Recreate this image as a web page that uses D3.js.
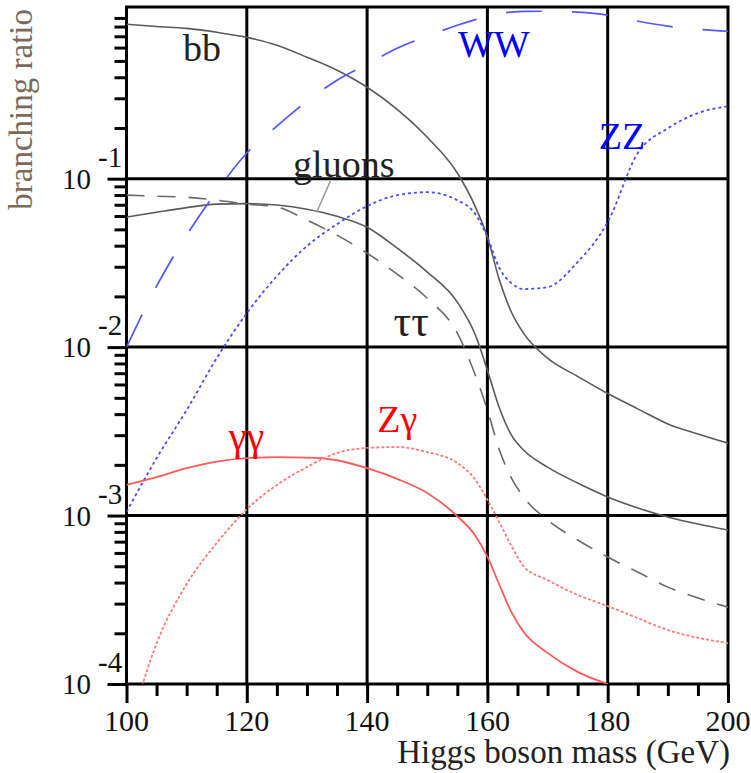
<!DOCTYPE html>
<meta charset="utf-8">
<script src="https://d3js.org/d3.v7.min.js"></script>
<style type="text/css">
	body { margin: 0; background: #fff; }
	svg { display: block; font-family: "Liberation Serif", "DejaVu Serif", serif; }
	.axis path { display: none; }
	.axis line { stroke: #000; stroke-width: 3px; }
	.grid line { stroke: #000; stroke-width: 3px; }
	.curve { fill: none; }
</style>
<body></body>
<script>

// Higgs mass grid (GeV)
var masses = [100,105,110,115,120,125,130,135,140,145,150,155,158,160,162,164,166,170,175,180,185,190,195,200];

// branching ratios
var bbBR     = [0.826,0.80,0.78,0.74,0.69,0.62,0.526,0.44,0.349,0.258,0.176,0.108,0.068,0.045,0.025,0.0161,0.0121,0.0086,0.0067,0.0053,0.0043,0.0035,0.00305,0.00269];
var tautauBR = [0.0591,0.0632,0.0673,0.0706,0.0711,0.0697,0.0659,0.0598,0.0515,0.0387,0.0279,0.0185,0.0118,0.0073,0.00435,0.0030,0.00245,0.00194,0.00156,0.00129,0.00111,0.00098,0.00089,0.00082];
var gluonBR  = [0.0798,0.0787,0.0776,0.0745,0.0706,0.0678,0.0567,0.0462,0.0361,0.0271,0.0195,0.0121,0.0068,0.00423,0.00245,0.00167,0.00129,0.00094,0.000716,0.000567,0.000462,0.000376,0.000324,0.000286];
var wwBR     = [0.0100,0.0230,0.0462,0.0842,0.142,0.205,0.288,0.384,0.478,0.595,0.701,0.815,0.88,0.921,0.955,0.975,0.985,0.986,0.973,0.934,0.861,0.804,0.771,0.75];
var zzBR     = [0.00105,0.00219,0.00423,0.0086,0.0159,0.0264,0.0398,0.0537,0.0687,0.0798,0.0831,0.0745,0.0616,0.045,0.0294,0.024,0.0221,0.0227,0.032,0.0552,0.142,0.199,0.245,0.269];
var gamgamBR = [0.00152,0.00169,0.00191,0.00209,0.00219,0.00222,0.00221,0.00213,0.00191,0.00165,0.00136,0.00099,0.00076,0.00057,0.000387,0.000267,0.000204,0.000153,0.000118,0.0001,null,null,null,null];
var zgamBR   = [0.000047,0.000174,0.000392,0.000687,0.00109,0.00152,0.00194,0.00235,0.00252,0.00255,0.00238,0.00205,0.00163,0.00124,0.00091,0.00066,0.000501,0.000414,0.000338,0.00029,0.000246,0.000209,0.000188,0.000175];

// axis ticks
var xTicks = [100,120,140,160,180,200];
var xMinorTicks = [105,110,115,125,130,135,145,150,155,165,170,175,185,190,195];
var yDecades = [1e-4,1e-3,1e-2,1e-1];
var yExponents = ['-4','-3','-2','-1'];
var yGrid = [1e-3,1e-2,1e-1];
var xGrid = [120,140,160,180];

var series = [
	{name: 'bb', values: bbBR, color: '#5a5a5a', dash: null, width: 1.6},
	{name: 'tautau', values: tautauBR, color: '#5a5a5a', dash: null, width: 1.6},
	{name: 'gluons', values: gluonBR, color: '#6a6a6a', dash: '18,13', width: 1.6},
	{name: 'WW', values: wwBR, color: '#5555ff', dash: '36,30', width: 1.7},
	{name: 'ZZ', values: zzBR, color: '#4a4aff', dash: '3,3', width: 1.8},
	{name: 'gamgam', values: gamgamBR, color: '#ff5a5a', dash: null, width: 1.8},
	{name: 'Zgam', values: zgamBR, color: '#ff7a7a', dash: '3,2', width: 1.8}
];

// curve labels, placed at (mass, BR) of their baseline-left corner
var labels = [
	{text: 'bb', m: 109.4, v: 0.50, color: '#222', size: 38},
	{text: 'gluons', m: 127.7, v: 0.103, color: '#222', size: 38},
	{text: 'ττ', m: 144.4, v: 0.0116, color: '#222', size: 44},
	{text: 'WW', m: 155.1, v: 0.527, color: '#0000ff', size: 38},
	{text: 'ZZ', m: 178.5, v: 0.150, color: '#0000ff', size: 38},
	{text: 'γγ', m: 117.0, v: 0.00245, color: '#ff0000', size: 40},
	{text: 'Zγ', m: 141.7, v: 0.00313, color: '#ff0000', size: 38}
];

var W = 751, H = 773;
var svg = d3.select('body').append('svg')
	.attr('width', W)
	.attr('height', H);

var xScale = d3.scaleLinear()
	.domain([100, 200])
	.range([126.5, 728]);

var yScale = d3.scaleLog()
	.domain([1e-4, 1.045])
	.range([684, 7]);

var x0 = xScale(100), x1 = xScale(200), y0 = yScale(1e-4), y1 = yScale(1.045);

svg.append('clipPath').attr('id', 'plotClip')
	.append('rect')
	.attr('x', x0).attr('y', y1)
	.attr('width', x1 - x0).attr('height', y0 - y1);

// grid
var grid = svg.append('g').attr('class', 'grid');
grid.selectAll('.vg').data(xGrid).enter().append('line')
	.attr('x1', function(d) { return xScale(d); })
	.attr('x2', function(d) { return xScale(d); })
	.attr('y1', y1).attr('y2', y0);
grid.selectAll('.hg').data(yGrid).enter().append('line')
	.attr('x1', x0).attr('x2', x1)
	.attr('y1', function(d) { return yScale(d); })
	.attr('y2', function(d) { return yScale(d); });

// frame
svg.append('rect')
	.attr('x', x0).attr('y', y1)
	.attr('width', x1 - x0).attr('height', y0 - y1)
	.style('fill', 'none').style('stroke', '#000').style('stroke-width', 3);

// x axis ticks
svg.append('g').attr('class', 'x axis')
	.attr('transform', 'translate(0,' + y0 + ')')
	.call(d3.axisBottom(xScale).tickValues(xTicks).tickSize(19).tickSizeOuter(0).tickFormat(''));
svg.append('g').attr('class', 'x axis')
	.attr('transform', 'translate(0,' + y0 + ')')
	.call(d3.axisBottom(xScale).tickValues(xMinorTicks).tickSize(12).tickSizeOuter(0).tickFormat(''));

// y axis ticks
var yMinor = [];
yDecades.forEach(function(d) {
	for (var k = 2; k <= 9; k++) { if (d * k <= 1.045) yMinor.push(d * k); }
});
svg.append('g').attr('class', 'y axis')
	.attr('transform', 'translate(' + x0 + ',0)')
	.call(d3.axisLeft(yScale).tickValues(yDecades).tickSize(19).tickSizeOuter(0).tickFormat(''));
svg.append('g').attr('class', 'y axis')
	.attr('transform', 'translate(' + x0 + ',0)')
	.call(d3.axisLeft(yScale).tickValues(yMinor).tickSize(12).tickSizeOuter(0).tickFormat(''));

// tick labels
svg.selectAll('.xlab').data(xTicks).enter().append('text')
	.attr('x', function(d) { return xScale(d); })
	.attr('y', 731)
	.attr('text-anchor', 'middle')
	.style('font-size', '30px')
	.style('fill', '#111')
	.text(function(d) { return d; });

svg.selectAll('.ylab').data(yDecades).enter().append('text')
	.attr('x', 91)
	.attr('y', function(d) { return yScale(d) + 10; })
	.attr('text-anchor', 'end')
	.style('font-size', '29px')
	.style('fill', '#111')
	.text('10');
svg.selectAll('.yexp').data(yDecades).enter().append('text')
	.attr('x', 98)
	.attr('y', function(d) { return yScale(d) - 12; })
	.style('font-size', '29px')
	.style('fill', '#111')
	.text(function(d, i) { return yExponents[i]; });

// axis titles
svg.append('text')
	.attr('x', 730).attr('y', 763)
	.attr('text-anchor', 'end')
	.style('font-size', '33px')
	.style('fill', '#222')
	.text('Higgs boson mass (GeV)');

svg.append('text')
	.attr('transform', 'translate(32,9) rotate(-90)')
	.attr('text-anchor', 'end')
	.style('font-size', '33px')
	.style('fill', '#7a6a5a')
	.text('branching ratio');

// curves
var line = d3.line()
	.defined(function(d) { return d[1] != null; })
	.x(function(d) { return xScale(d[0]); })
	.y(function(d) { return yScale(d[1]); })
	.curve(d3.curveMonotoneX);

var curves = svg.append('g').attr('clip-path', 'url(#plotClip)');
curves.selectAll('.curve').data(series).enter().append('path')
	.attr('class', 'curve')
	.attr('d', function(s) { return line(masses.map(function(m, i) { return [m, s.values[i]]; })); })
	.style('stroke', function(s) { return s.color; })
	.style('stroke-width', function(s) { return s.width; })
	.style('stroke-dasharray', function(s) { return s.dash; });

// gluon leader line
svg.append('line')
	.attr('x1', xScale(133.9)).attr('y1', yScale(0.097))
	.attr('x2', xScale(131.6)).attr('y2', yScale(0.063))
	.style('stroke', '#999').style('stroke-width', 1.5);

// curve labels
svg.selectAll('.clab').data(labels).enter().append('text')
	.attr('x', function(d) { return xScale(d.m); })
	.attr('y', function(d) { return yScale(d.v); })
	.style('font-size', function(d) { return d.size + 'px'; })
	.style('fill', function(d) { return d.color; })
	.text(function(d) { return d.text; });

</script>
